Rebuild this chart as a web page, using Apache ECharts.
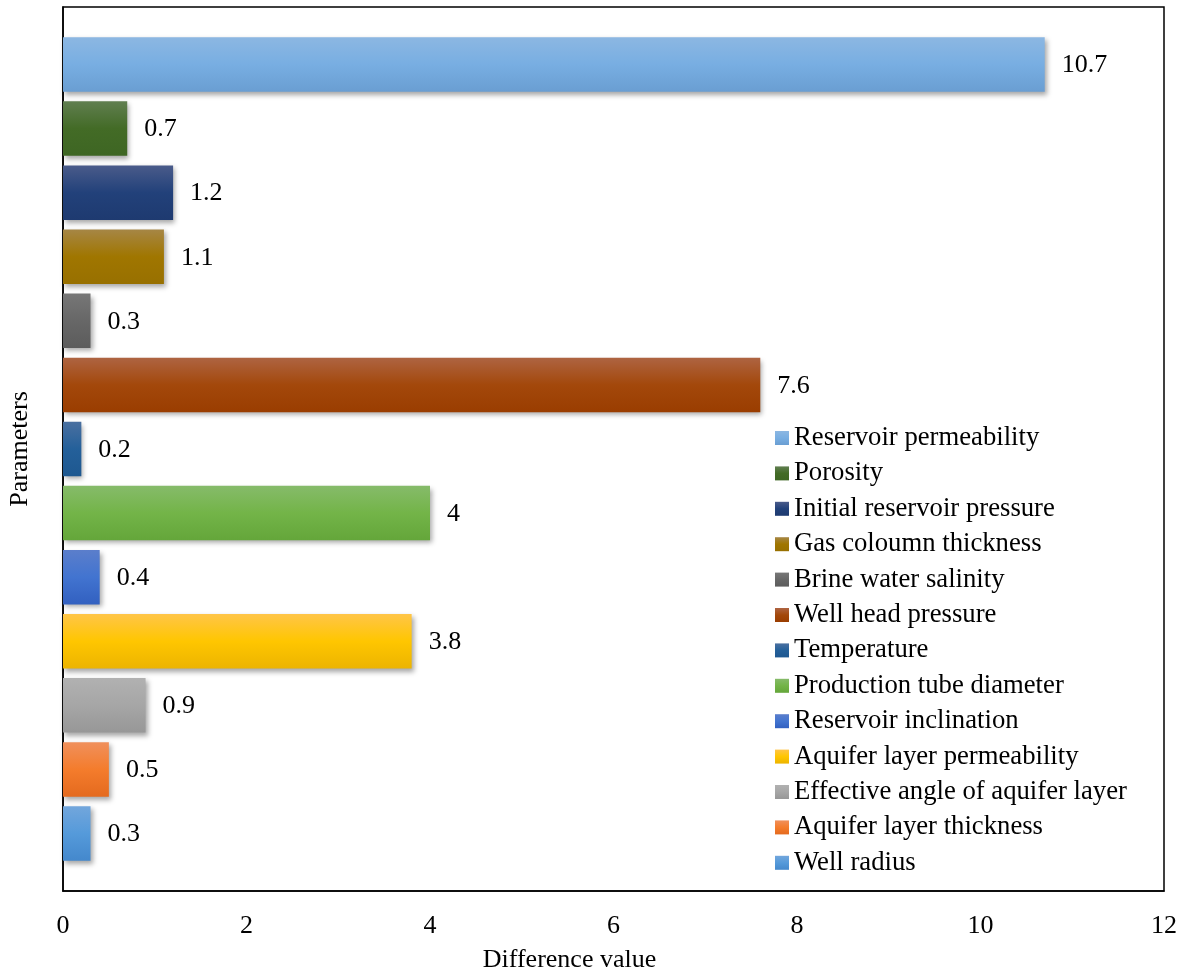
<!DOCTYPE html>
<html>
<head>
<meta charset="utf-8">
<script src="https://cdn.jsdelivr.net/npm/echarts@6/dist/echarts.min.js"></script>
<style>html,body{margin:0;padding:0;background:#fff;}#c{width:1184px;height:969px;}</style>
</head>
<body>
<div id="c"></div>
<script>
const parameters = [
  'Reservoir permeability', 'Porosity', 'Initial reservoir pressure', 'Gas coloumn thickness',
  'Brine water salinity', 'Well head pressure', 'Temperature', 'Production tube diameter',
  'Reservoir inclination', 'Aquifer layer permeability', 'Effective angle of aquifer layer',
  'Aquifer layer thickness', 'Well radius'
];
const differenceValues = [10.7, 0.7, 1.2, 1.1, 0.3, 7.6, 0.2, 4, 0.4, 3.8, 0.9, 0.5, 0.3];
const xTicks = [0, 2, 4, 6, 8, 10, 12];

// [top, middle, bottom] gradient stops per series
const shades = [
  ['#8CB7E2', '#78AEE2', '#6A9ED2'],
  ['#607E50', '#436B26', '#3E6623'],
  ['#4A5B8A', '#22417A', '#1E3A70'],
  ['#A68645', '#A07600', '#987000'],
  ['#777777', '#676767', '#5C5C5C'],
  ['#AE6442', '#A3480B', '#9A3D00'],
  ['#4A70A0', '#24609A', '#1E5890'],
  ['#86BB6A', '#73B448', '#64A63A'],
  ['#5B7ECB', '#4274D0', '#3260C0'],
  ['#FFC548', '#FFC600', '#ECB400'],
  ['#B1B1B1', '#A6A6A6', '#979797'],
  ['#F0905C', '#F47C2C', '#E46A1E'],
  ['#72A6DC', '#559ADA', '#4488CC']
];
const FONT = '"Liberation Serif", "Times New Roman", serif';
const FS = 26;

const chart = echarts.init(document.getElementById('c'), null, {renderer: 'canvas'});

const series = parameters.map((name, i) => ({
  name: name,
  type: 'bar',
  data: [differenceValues[i]],
  barWidth: 54.5,
  barGap: '17.6%',
  itemStyle: {
    color: new echarts.graphic.LinearGradient(0, 0, 0, 1, [
      {offset: 0, color: shades[i][0]},
      {offset: 0.5, color: shades[i][1]},
      {offset: 1, color: shades[i][2]}
    ]),
    shadowColor: 'rgba(0,0,0,0.35)',
    shadowBlur: 5,
    shadowOffsetX: 2,
    shadowOffsetY: 3
  },
  label: {
    show: true,
    position: 'right',
    distance: 17,
    offset: [0, 1],
    color: '#000',
    fontFamily: FONT,
    fontSize: FS
  }
}));

chart.setOption({
  animation: false,
  backgroundColor: '#fff',
  textStyle: {fontFamily: FONT},
  grid: {
    left: 63, right: 20, top: 7, bottom: 78,
    show: true, borderColor: '#000', borderWidth: 1.5,
    containLabel: false,
    outerBoundsMode: 'none'
  },
  legend: {
    orient: 'vertical',
    left: 775,
    top: 424,
    padding: 0,
    data: parameters,
    icon: 'rect',
    itemWidth: 14,
    itemHeight: 14,
    itemGap: 7.4,
    textStyle: {fontFamily: FONT, fontSize: 26.7, color: '#000', lineHeight: 28},
    selectedMode: false
  },
  xAxis: {
    type: 'value',
    min: xTicks[0],
    max: xTicks[xTicks.length - 1],
    interval: xTicks[1] - xTicks[0],
    name: 'Difference value',
    nameLocation: 'middle',
    nameGap: 56,
    nameTextStyle: {fontFamily: FONT, fontSize: FS, color: '#000', padding: [0, 88, 0, 0]},
    axisLine: {show: true, lineStyle: {color: '#000', width: 1.5}},
    axisTick: {show: false},
    splitLine: {show: false},
    axisLabel: {fontFamily: FONT, fontSize: FS, color: '#000', margin: 22}
  },
  yAxis: {
    type: 'category',
    data: [''],
    inverse: true,
    name: 'Parameters',
    nameLocation: 'middle',
    nameGap: 30,
    nameRotate: 90,
    nameTextStyle: {fontFamily: FONT, fontSize: FS, color: '#000'},
    axisLine: {show: true, lineStyle: {color: '#000', width: 1.5}},
    axisTick: {show: false},
    axisLabel: {show: false},
    splitLine: {show: false}
  },
  series: series
});
</script>
</body>
</html>
